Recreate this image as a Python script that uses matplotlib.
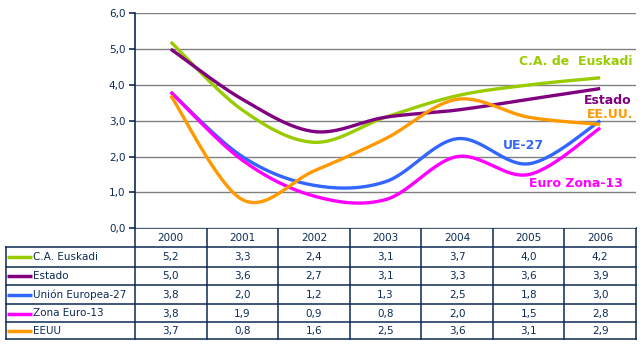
import numpy as np
import matplotlib.pyplot as plt

years = ['2000', '2001', '2002', '2003', '2004', '2005', '2006']
series_names = ['C.A. Euskadi', 'Estado', 'Unión Europea-27', 'Zona Euro-13', 'EEUU']
euskadi = [5.2, 3.3, 2.4, 3.1, 3.7, 4.0, 4.2]
estado = [5.0, 3.6, 2.7, 3.1, 3.3, 3.6, 3.9]
ue27 = [3.8, 2.0, 1.2, 1.3, 2.5, 1.8, 3.0]
zona_euro = [3.8, 1.9, 0.9, 0.8, 2.0, 1.5, 2.8]
eeuu = [3.7, 0.8, 1.6, 2.5, 3.6, 3.1, 2.9]
values = [euskadi, estado, ue27, zona_euro, eeuu]
colors = ['#99CC00', '#800080', '#3366FF', '#FF00FF', '#FF9900']
curve_labels = ['C.A. de  Euskadi', 'Estado', 'EE.UU.', 'UE-27', 'Euro Zona-13']

navy = '#0B2A55'
W, H = 643, 346


def smooth(y, n=30):
    # bezier smoothing like the spreadsheet "smoothed line"
    y = np.asarray(y, float)
    x = np.arange(len(y), dtype=float)
    px = np.concatenate([[x[0]], x, [x[-1]]])
    py = np.concatenate([[y[0]], y, [y[-1]]])
    xs, ys = [], []
    t = np.linspace(0, 1, n)
    for i in range(len(y) - 1):
        p0 = np.array([px[i + 1], py[i + 1]])
        p3 = np.array([px[i + 2], py[i + 2]])
        c1 = p0 + (np.array([px[i + 2], py[i + 2]]) - np.array([px[i], py[i]])) / 6
        c2 = p3 - (np.array([px[i + 3], py[i + 3]]) - np.array([px[i + 1], py[i + 1]])) / 6
        b = ((1 - t) ** 3)[:, None] * p0 + (3 * (1 - t) ** 2 * t)[:, None] * c1 \
            + (3 * (1 - t) * t ** 2)[:, None] * c2 + (t ** 3)[:, None] * p3
        xs.append(b[:, 0])
        ys.append(b[:, 1])
    return np.concatenate(xs), np.concatenate(ys)


fig = plt.figure(figsize=(W / 100, H / 100), dpi=100)
plt.rcParams['font.family'] = ['DejaVu Sans']

left, right, top, bottom = 135, 636, 13.3, 228.3
ax = fig.add_axes([left / W, 1 - bottom / H, (right - left) / W, (bottom - top) / H])
ax.set_xlim(-0.5, len(years) - 0.5)
ax.set_ylim(0, 6)
ax.set_yticks(range(7))
ax.set_yticklabels(['%d,0' % v for v in range(7)], color=navy, fontsize=7.5)
ax.tick_params(axis='y', length=4, width=1.2, color=navy, pad=3)
ax.set_xticks([])
for s in ['top', 'right', 'bottom']:
    ax.spines[s].set_visible(False)
ax.spines['left'].set_color(navy)
ax.spines['left'].set_linewidth(1.2)
ax.grid(axis='y', color='#808080', lw=1)
ax.set_axisbelow(True)

for vals, c in zip(values, colors):
    sx, sy = smooth(vals)
    ax.plot(sx, sy, color=c, lw=2.4, solid_capstyle='butt')

lab_pos = [(6.455, 4.645, 'right'), (6.44, 3.56, 'right'), (6.47, 3.165, 'right'),
           (4.64, 2.30, 'left'), (5.00, 1.24, 'left')]
lab_col = ['#99CC00', '#800080', '#FF9900', '#3366FF', '#FF00FF']
for (x, y, ha), txt, c in zip(lab_pos, curve_labels, lab_col):
    ax.text(x, y, txt, color=c, fontsize=9, fontweight='bold', ha=ha, va='center',
            clip_on=False)

# data table underneath
tb = fig.add_axes([0, 0, 1, 1], zorder=-1)
tb.set_xlim(0, W)
tb.set_ylim(H, 0)
tb.axis('off')
col_w = (right - left) / len(years)
row_y = [bottom, 247, 266.7, 285, 304, 322, 339]
xs = [left + i * col_w for i in range(len(years) + 1)]
lw = 1.1
tb.plot([left, right], [row_y[0], row_y[0]], color=navy, lw=lw)
for yy in row_y[1:]:
    tb.plot([6, right], [yy, yy], color=navy, lw=lw)
for xx in xs:
    tb.plot([xx, xx], [row_y[0], row_y[-1]], color=navy, lw=lw)
tb.plot([6, 6], [row_y[1], row_y[-1]], color=navy, lw=lw)

for i, yr in enumerate(years):
    tb.text(xs[i] + col_w / 2, (row_y[0] + row_y[1]) / 2 + 0.5, yr, ha='center', va='center',
            fontsize=7.5, color=navy)
for r, (name, vals, c) in enumerate(zip(series_names, values, colors)):
    yc = (row_y[r + 1] + row_y[r + 2]) / 2 + 0.5
    tb.plot([7, 32], [yc, yc], color=c, lw=2.5, solid_capstyle='butt')
    tb.text(33, yc, name, ha='left', va='center', fontsize=7.5, color=navy)
    for i, v in enumerate(vals):
        tb.text(xs[i] + col_w / 2, yc, ('%.1f' % v).replace('.', ','), ha='center',
                va='center', fontsize=7.5, color=navy)

fig.savefig('out.png', dpi=100)
